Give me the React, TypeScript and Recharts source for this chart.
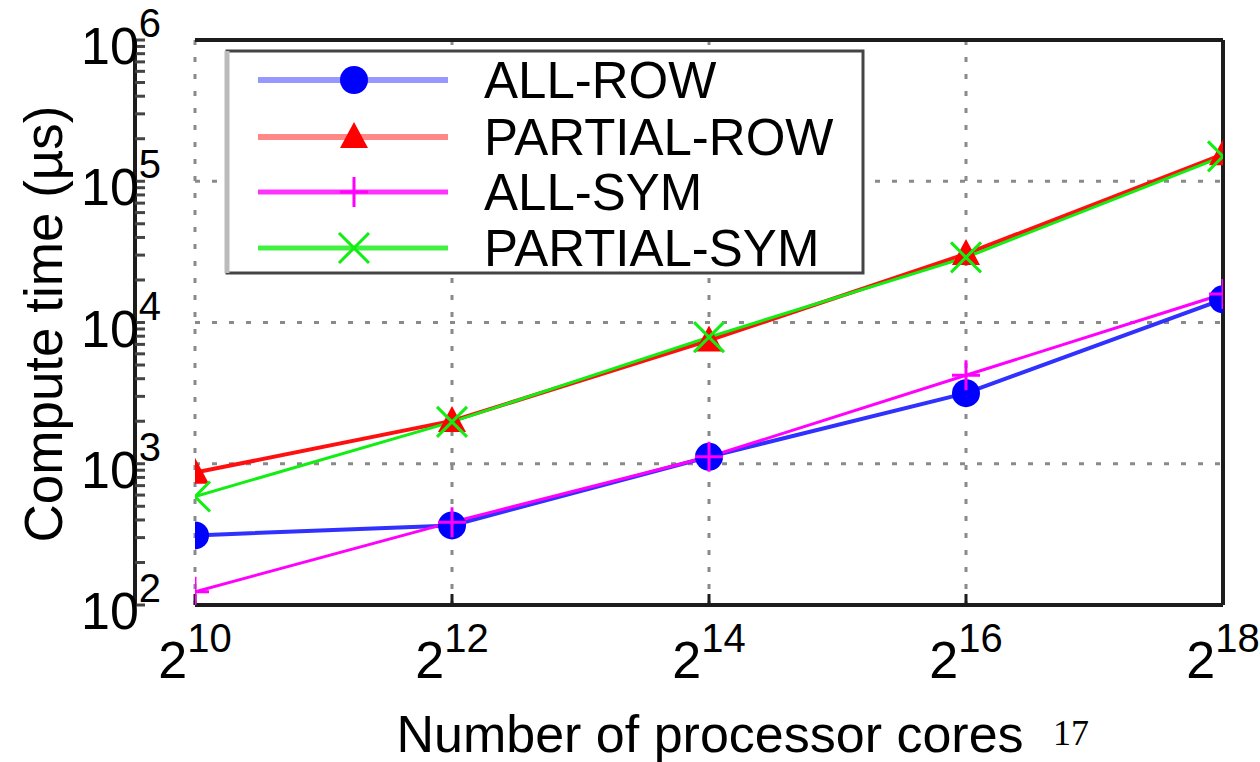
import { LineChart, Line, XAxis, YAxis, CartesianGrid, Legend } from "recharts";

const FONT = "'Liberation Sans', Arial, Helvetica, sans-serif";
const BORDER = "#1c1c1c";
const GRID = "#8a8a8a";

// processor cores (x) and compute time in µs (y)
const cores = [1024, 4096, 16384, 65536, 262144];
const allRow = [311, 366, 1120, 3160, 14600];
const partialRow = [865, 2010, 7470, 30600, 155000];
const allSym = [124, 386, 1120, 4230, 15900];
const partialSym = [586, 1980, 7880, 28900, 150000];

const xTicks = [1024, 4096, 16384, 65536, 262144];
const yMajor = [1e2, 1e3, 1e4, 1e5, 1e6];
const yGrid = [1e3, 1e4, 1e5];
const yMinorSteps = [2, 3, 4, 5, 6, 7, 8, 9];
const yTicks = [
  ...yMajor,
  ...[1e2, 1e3, 1e4, 1e5].flatMap((d) => yMinorSteps.map((k) => k * d)),
].sort((a, b) => a - b);

const data = cores.map((c, i) => ({
  cores: c,
  allRow: allRow[i],
  partialRow: partialRow[i],
  allSym: allSym[i],
  partialSym: partialSym[i],
}));

type Marker = (cx: number, cy: number, key?: string) => JSX.Element;

const circle: Marker = (cx, cy, key) => (
  <circle key={key} cx={cx} cy={cy} r={14} fill="#0000ff" />
);
const triangle: Marker = (cx, cy, key) => (
  <polygon
    key={key}
    points={`${cx},${cy - 15} ${cx - 14},${cy + 11} ${cx + 14},${cy + 11}`}
    fill="#ff0000"
  />
);
const plus: Marker = (cx, cy, key) => (
  <path
    key={key}
    d={`M${cx - 14},${cy}H${cx + 14}M${cx},${cy - 15}V${cy + 15}`}
    stroke="#ff00ff"
    strokeWidth={3}
    fill="none"
  />
);
const cross: Marker = (cx, cy, key) => (
  <path
    key={key}
    d={`M${cx - 15},${cy - 15}L${cx + 15},${cy + 15}M${cx - 15},${cy + 15}L${cx + 15},${cy - 15}`}
    stroke="#11ee11"
    strokeWidth={3}
    fill="none"
  />
);

const series = [
  { key: "allRow", name: "ALL-ROW", color: "#3030ff", width: 4, legendOpacity: 0.5, marker: circle },
  { key: "partialRow", name: "PARTIAL-ROW", color: "#ff1010", width: 4, legendOpacity: 0.5, marker: triangle },
  { key: "allSym", name: "ALL-SYM", color: "#ff00ff", width: 3, legendOpacity: 0.8, marker: plus },
  { key: "partialSym", name: "PARTIAL-SYM", color: "#11ee11", width: 3, legendOpacity: 0.8, marker: cross },
];

function YTick({ y, payload }: any) {
  const v = payload.value;
  if (!yMajor.includes(v)) return <g />;
  const exp = Math.round(Math.log10(v));
  return (
    <text x={81} y={y + 24} fontFamily={FONT} fontSize={52} fill="#000">
      <tspan>10</tspan>
      <tspan dy={-27} fontSize={40}>
        {exp}
      </tspan>
    </text>
  );
}

function XTick({ x, payload }: any) {
  const exp = Math.round(Math.log2(payload.value));
  return (
    <text x={x} y={678} textAnchor="middle" fontFamily={FONT} fontSize={52} fill="#000">
      <tspan>2</tspan>
      <tspan dy={-26} fontSize={40}>
        {exp}
      </tspan>
    </text>
  );
}

function XLabel() {
  return (
    <g>
      <text x={710} y={752} textAnchor="middle" fontFamily={FONT} fontSize={52} fill="#000">
        Number of processor cores
      </text>
      <text x={1053} y={745} fontFamily="'Liberation Serif', 'Times New Roman', serif" fontSize={36} fill="#000">
        17
      </text>
    </g>
  );
}

function YLabel() {
  return (
    <text
      transform="translate(62,324) rotate(-90)"
      textAnchor="middle"
      fontFamily={FONT}
      fontSize={53}
      fill="#000"
    >
      Compute time (µs)
    </text>
  );
}

const ROWS = [34, 91, 146, 202];

function LegendBox({ payload }: any) {
  const names: Record<string, string> = {};
  for (const item of (payload ?? []) as any[]) names[item.dataKey] = item.value;
  return (
    <svg width={650} height={235} style={{ display: "block" }}>
      <rect x={5} y={5} width={636} height={222} fill="#fff" stroke="#444" strokeWidth={3} />
      <line x1={5} y1={5} x2={5} y2={227} stroke="#bbb" strokeWidth={5} />
      {series.map((s, i) => {
        const y = ROWS[i];
        return (
          <g key={s.key}>
            <line
              x1={36}
              x2={226}
              y1={y}
              y2={y}
              stroke={s.color}
              strokeWidth={s.width + 2}
              strokeOpacity={s.legendOpacity}
            />
            {s.marker(132, y)}
            <text x={262} y={y + 18} fontFamily={FONT} fontSize={51} fill="#000">
              {names[s.key] ?? s.name}
            </text>
          </g>
        );
      })}
    </svg>
  );
}

export default function App() {
  return (
    <div style={{ position: "absolute", left: 0, top: 0, background: "#fff" }}>
      <LineChart
        width={1260}
        height={762}
        data={data}
        margin={{ top: 39, right: 36, bottom: 0, left: 0 }}
      >
        <CartesianGrid
          xAxisId="bottom"
          yAxisId="grid"
          stroke={GRID}
          strokeWidth={3}
          strokeDasharray="5 12"
        />
        <XAxis
          xAxisId="bottom"
          dataKey="cores"
          type="number"
          scale="log"
          domain={[1024, 262144]}
          allowDataOverflow
          ticks={xTicks}
          interval={0}
          height={157}
          tickSize={-11}
          tick={<XTick />}
          axisLine={{ stroke: BORDER, strokeWidth: 4 }}
          tickLine={{ stroke: BORDER, strokeWidth: 3 }}
          label={<XLabel />}
        />
        <XAxis
          xAxisId="top"
          orientation="top"
          type="number"
          scale="log"
          domain={[1024, 262144]}
          allowDataOverflow
          ticks={xTicks}
          interval={0}
          height={1}
          tickSize={-11}
          tick={false}
          axisLine={{ stroke: BORDER, strokeWidth: 4 }}
          tickLine={{ stroke: BORDER, strokeWidth: 3 }}
        />
        <YAxis
          yAxisId="left"
          type="number"
          scale="log"
          domain={[100, 1000000]}
          allowDataOverflow
          ticks={yTicks}
          interval={0}
          width={195}
          tickSize={-10}
          tick={<YTick />}
          axisLine={{ stroke: BORDER, strokeWidth: 4 }}
          tickLine={{ stroke: "#444", strokeWidth: 3 }}
          label={<YLabel />}
        />
        <YAxis
          yAxisId="right"
          orientation="right"
          type="number"
          scale="log"
          domain={[100, 1000000]}
          allowDataOverflow
          ticks={yTicks}
          interval={0}
          width={1}
          tickSize={-10}
          tick={false}
          axisLine={{ stroke: BORDER, strokeWidth: 4 }}
          tickLine={{ stroke: "#444", strokeWidth: 3 }}
        />
        <YAxis
          yAxisId="grid"
          type="number"
          scale="log"
          domain={[100, 1000000]}
          allowDataOverflow
          ticks={yGrid}
          interval={0}
          hide
        />
        <Legend
          layout="vertical"
          align="center"
          verticalAlign="middle"
          content={<LegendBox />}
          wrapperStyle={{ left: 222, top: 46, width: 650, height: 235 }}
        />
        {series.map((s) => (
          <Line
            key={s.key}
            xAxisId="bottom"
            yAxisId="left"
            type="linear"
            dataKey={s.key}
            name={s.name}
            stroke={s.color}
            strokeWidth={s.width}
            dot={(p: any) => s.marker(p.cx, p.cy, `${s.key}-${p.index}`)}
            activeDot={false}
            isAnimationActive={false}
          />
        ))}
      </LineChart>
    </div>
  );
}
